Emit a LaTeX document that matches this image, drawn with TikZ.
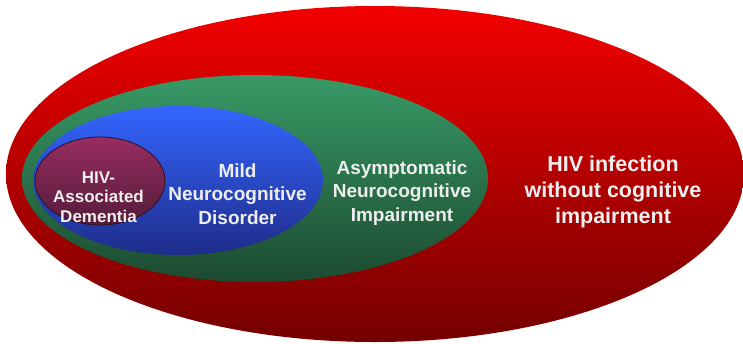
\documentclass[tikz,border=0pt]{standalone}
\usepackage{fontspec}
\setmainfont{Liberation Sans}
\usetikzlibrary{shapes.geometric}
\definecolor{RedTop}{RGB}{242,0,0}
\definecolor{RedBot}{RGB}{116,0,0}
\definecolor{GreenTop}{RGB}{56,154,102}
\definecolor{GreenBot}{RGB}{28,74,48}
\definecolor{BlueTop}{RGB}{52,102,255}
\definecolor{BlueBot}{RGB}{30,44,138}
\definecolor{PurpTop}{RGB}{152,44,96}
\definecolor{PurpBot}{RGB}{84,28,58}
\definecolor{PurpLine}{RGB}{40,16,36}
\definecolor{LabelCol}{RGB}{238,238,238}
\tikzset{
  blob/.style={ellipse, inner sep=0pt, draw=none},
  lbl/.style={align=center, text=LabelCol, inner sep=0pt, font=\bfseries\fontsize{19}{23.5}\selectfont},
}
\begin{document}
\begin{tikzpicture}[x=1pt,y=-1pt]
\useasboundingbox (0,0) rectangle (743,343);
\node[blob, minimum width=738pt, minimum height=336pt, top color=RedTop, bottom color=RedBot] (red) at (375,174) {};
\node[blob, minimum width=466pt, minimum height=207pt, top color=GreenTop, bottom color=GreenBot] (green) at (255,178.5) {};
\node[blob, minimum width=290pt, minimum height=149pt, top color=BlueTop, bottom color=BlueBot] (blue) at (178,180.5) {};
\node[blob, draw=PurpLine, line width=0.8pt, minimum width=130pt, minimum height=88pt, top color=PurpTop, bottom color=PurpBot] (purple) at (100,181) {};
\node[lbl, font=\bfseries\fontsize{17}{19.5}\selectfont] (had) at (98.5,197) {HIV-\\Associated\\Dementia};
\node[lbl] (mnd) at (237.5,194) {Mild\\Neurocognitive\\Disorder};
\node[lbl] (ani) at (402,193) {Asymptomatic\\Neurocognitive\\Impairment};
\node[lbl, font=\bfseries\fontsize{21.5}{26}\selectfont] (hiv) at (613,192) {HIV infection\\without cognitive\\impairment};
\end{tikzpicture}
\end{document}
